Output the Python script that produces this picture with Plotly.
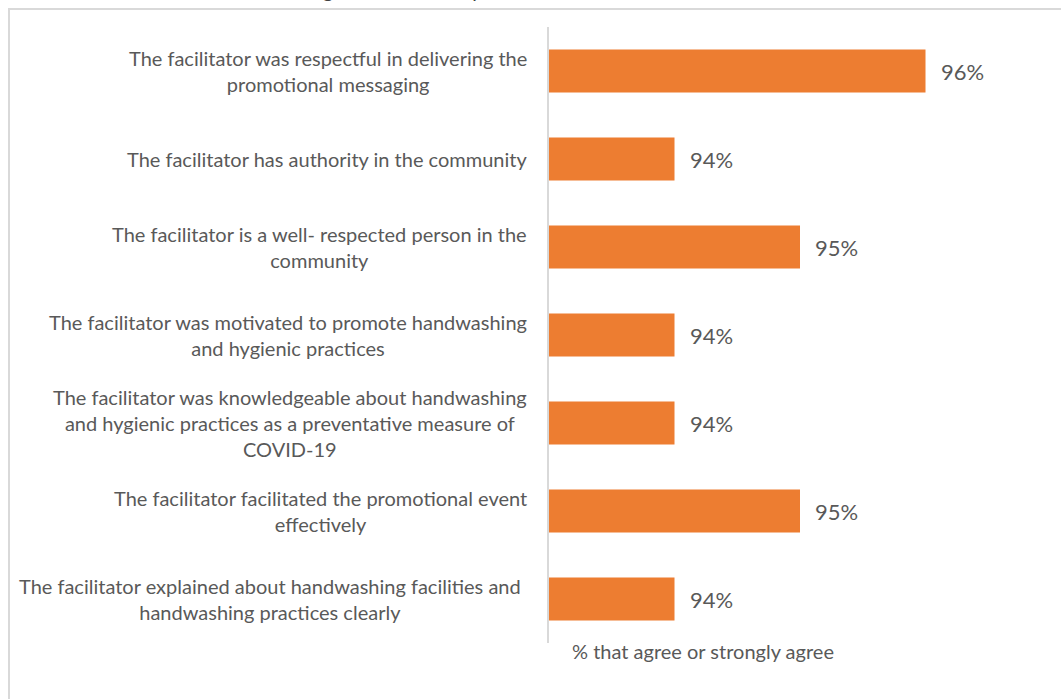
import plotly.graph_objects as go

# Survey statements (top to bottom) and share agreeing with each
statements = [
    "The facilitator was respectful in delivering the<br>promotional messaging",
    "The facilitator has authority in the community",
    "The facilitator is a well- respected person in the<br>community",
    "The facilitator was motivated to promote handwashing<br>and hygienic practices",
    "The facilitator was knowledgeable about handwashing<br>and hygienic practices as a preventative measure of<br>COVID-19",
    "The facilitator facilitated the promotional event<br>effectively",
    "The facilitator explained about handwashing facilities and<br>handwashing practices clearly",
]
pct_agree = [96, 94, 95, 94, 94, 95, 94]
axis_title = "% that agree or strongly agree"
chart_title = "Rating of facilitator of promotion"

W, H = 1061, 699
ML, MR, MT, MB = 549, 10, 27, 56
PW, PH = W - ML - MR, H - MT - MB

BAR = "#ED7D31"
TXT = "#595959"
FONT = "Lato"

cats = [f"s{i}" for i in range(len(statements))]

fig = go.Figure(
    go.Bar(
        x=pct_agree,
        y=cats,
        orientation="h",
        marker=dict(color=BAR, line=dict(width=0)),
        hoverinfo="skip",
    )
)

def px_x(p):
    return (p - ML) / PW

def px_y(p):
    return 1 - (p - MT) / PH

annotations = []
for i, (c, s, v) in enumerate(zip(cats, statements, pct_agree)):
    right_edge = 523 if i == len(statements) - 1 else 529
    annotations.append(dict(
        x=px_x(right_edge), xref="paper", y=c, yref="y",
        text=s, showarrow=False, xanchor="right", yanchor="middle",
        align="center", font=dict(family=FONT, size=20, color=TXT),
    ))
    annotations.append(dict(
        x=v, xref="x", y=c, yref="y",
        text=f"{v}%", showarrow=False, xanchor="left", yanchor="middle",
        xshift=13, font=dict(family=FONT, size=22, color=TXT),
    ))

annotations.append(dict(
    x=px_x(703), xref="paper", y=px_y(651), yref="paper",
    text=axis_title, showarrow=False, xanchor="center", yanchor="middle",
    font=dict(family=FONT, size=20, color=TXT),
))
annotations.append(dict(
    x=px_x(566), xref="paper", y=px_y(4), yref="paper",
    text=chart_title, showarrow=False, xanchor="right", yanchor="bottom",
    font=dict(family=FONT, size=20, color="#404040"),
))

fig.update_layout(
    width=W, height=H,
    margin=dict(l=ML, r=MR, t=MT, b=MB),
    paper_bgcolor="white", plot_bgcolor="white",
    showlegend=False,
    bargap=0.51,
    annotations=annotations,
    xaxis=dict(range=[93, 97], visible=False, fixedrange=True),
    yaxis=dict(
        autorange="reversed", showticklabels=False, ticks="",
        showgrid=False, zeroline=False,
        showline=True, linecolor="#d9d9d9", linewidth=2,
    ),
    shapes=[dict(
        type="rect", xref="paper", yref="paper",
        x0=px_x(9), x1=px_x(W + 20), y0=px_y(H + 20), y1=px_y(9),
        line=dict(color="#d9d9d9", width=2), layer="below",
    )],
)

fig.write_html("out.html")
